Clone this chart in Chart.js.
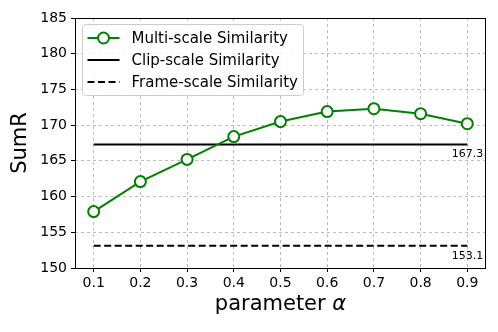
<!DOCTYPE html>
<html>
<head>
<meta charset="utf-8">
<script src="https://cdn.jsdelivr.net/npm/chart.js@4"></script>
<style>
    html, body { margin: 0; padding: 0; background: #fff; }
    #wrap { width: 498px; height: 332px; }
</style>
</head>
<body>
<div id="wrap"><canvas id="grafico" width="498" height="332"></canvas></div>
<script>
const alphas = [0.1, 0.2, 0.3, 0.4, 0.5, 0.6, 0.7, 0.8, 0.9];
const multiScale = [157.9, 162.1, 165.2, 168.4, 170.5, 171.9, 172.3, 171.6, 170.2];
const clipScale = 167.3;
const frameScale = 153.1;
const yTicks = [150, 155, 160, 165, 170, 175, 180, 185];

const fonte = "'DejaVu Sans', sans-serif";
const verde = '#008000';

// moldura preta em volta da area do grafico + legenda + rotulos
const extras = {
    id: 'extras',
    afterDraw(chart) {
        const ctx = chart.ctx;
        const area = chart.chartArea;
        const x = chart.scales.x;
        const y = chart.scales.y;

        ctx.save();
        ctx.strokeStyle = '#000';
        ctx.lineWidth = 1;
        ctx.strokeRect(Math.round(area.left) + 0.5, Math.round(area.top) + 0.5,
            Math.round(area.right - area.left) - 1, Math.round(area.bottom - area.top));

        // rotulos dos valores de referencia
        ctx.fillStyle = '#000';
        ctx.font = '11px ' + fonte;
        ctx.textAlign = 'right';
        ctx.textBaseline = 'middle';
        const xr = x.getPixelForValue(alphas[alphas.length - 1]) + 16;
        ctx.fillText(clipScale.toFixed(1), xr, y.getPixelForValue(clipScale) + 10);
        ctx.fillText(frameScale.toFixed(1), xr, y.getPixelForValue(frameScale) + 10);

        // titulo do eixo x com alfa em italico
        const parte1 = 'parameter ';
        const parte2 = 'α';
        ctx.font = '21px ' + fonte;
        const w1 = ctx.measureText(parte1).width;
        ctx.font = 'italic 21px ' + fonte;
        const w2 = ctx.measureText(parte2).width;
        const x0 = (area.left + area.right) / 2 - (w1 + w2) / 2;
        ctx.textAlign = 'left';
        ctx.font = '21px ' + fonte;
        ctx.fillText(parte1, x0, 305);
        ctx.font = 'italic 21px ' + fonte;
        ctx.fillText(parte2, x0 + w1, 305);

        // legenda
        const lx = area.left + 7.5, ly = area.top + 6.5, lw = 221, lh = 71;
        ctx.beginPath();
        ctx.roundRect(lx, ly, lw, lh, 3);
        ctx.fillStyle = 'rgba(255,255,255,0.85)';
        ctx.fill();
        ctx.strokeStyle = '#cccccc';
        ctx.lineWidth = 1;
        ctx.stroke();

        const itens = chart.data.datasets;
        itens.forEach((ds, i) => {
            const cy = ly + 13.5 + i * 22;
            ctx.beginPath();
            ctx.setLineDash(ds.borderDash || []);
            ctx.strokeStyle = ds.borderColor;
            ctx.lineWidth = 2;
            ctx.moveTo(lx + 5, cy);
            ctx.lineTo(lx + 37, cy);
            ctx.stroke();
            ctx.setLineDash([]);
            if (ds.pointRadius > 0) {
                ctx.beginPath();
                ctx.arc(lx + 21, cy, ds.pointRadius, 0, Math.PI * 2);
                ctx.fillStyle = '#fff';
                ctx.fill();
                ctx.stroke();
            }
            ctx.fillStyle = '#000';
            ctx.font = '15px ' + fonte;
            ctx.textAlign = 'left';
            ctx.textBaseline = 'middle';
            ctx.fillText(ds.label, lx + 49, cy + 1);
        });
        ctx.restore();
    }
};

new Chart(document.getElementById('grafico').getContext('2d'), {
    type: 'line',
    data: {
        datasets: [
            {
                label: 'Multi-scale Similarity',
                data: alphas.map((a, i) => ({ x: a, y: multiScale[i] })),
                borderColor: verde,
                borderWidth: 2,
                pointRadius: 5.5,
                pointBorderWidth: 2,
                pointBackgroundColor: '#fff',
                pointBorderColor: verde,
                tension: 0
            },
            {
                label: 'Clip-scale Similarity',
                data: [{ x: alphas[0], y: clipScale }, { x: alphas[alphas.length - 1], y: clipScale }],
                borderColor: '#000',
                borderWidth: 2,
                pointRadius: 0
            },
            {
                label: 'Frame-scale Similarity',
                data: [{ x: alphas[0], y: frameScale }, { x: alphas[alphas.length - 1], y: frameScale }],
                borderColor: '#000',
                borderWidth: 2,
                borderDash: [7, 3.5],
                pointRadius: 0
            }
        ]
    },
    options: {
        responsive: false,
        animation: false,
        layout: { padding: { left: 0, top: 18, right: 12, bottom: 0 } },
        plugins: {
            legend: { display: false },
            tooltip: { enabled: false }
        },
        scales: {
            x: {
                type: 'linear',
                min: 0.06,
                max: 0.94,
                afterBuildTicks: s => { s.ticks = alphas.map(v => ({ value: v })); },
                afterFit: s => { s.height = 64; },
                grid: { color: '#bbbbbb', lineWidth: 1, tickLength: 4, tickColor: '#000', tickBorderDash: [] },
                border: { display: false, dash: [3, 3] },
                ticks: {
                    color: '#000',
                    font: { family: fonte, size: 14 },
                    padding: 3,
                    maxRotation: 0,
                    callback: v => Number(v).toFixed(1)
                },
                title: { display: false }
            },
            y: {
                min: 150,
                max: 185,
                afterBuildTicks: s => { s.ticks = yTicks.map(v => ({ value: v })); },
                afterFit: s => { s.width = 75; },
                grid: { color: '#bbbbbb', lineWidth: 1, tickLength: 4, tickColor: '#000', tickBorderDash: [] },
                border: { display: false, dash: [3, 3] },
                ticks: {
                    color: '#000',
                    font: { family: fonte, size: 14 },
                    padding: 4
                },
                title: {
                    display: true,
                    text: 'SumR',
                    color: '#000',
                    font: { family: fonte, size: 21 },
                    padding: { top: 8, bottom: 0 }
                }
            }
        }
    },
    plugins: [extras]
});
</script>
</body>
</html>
